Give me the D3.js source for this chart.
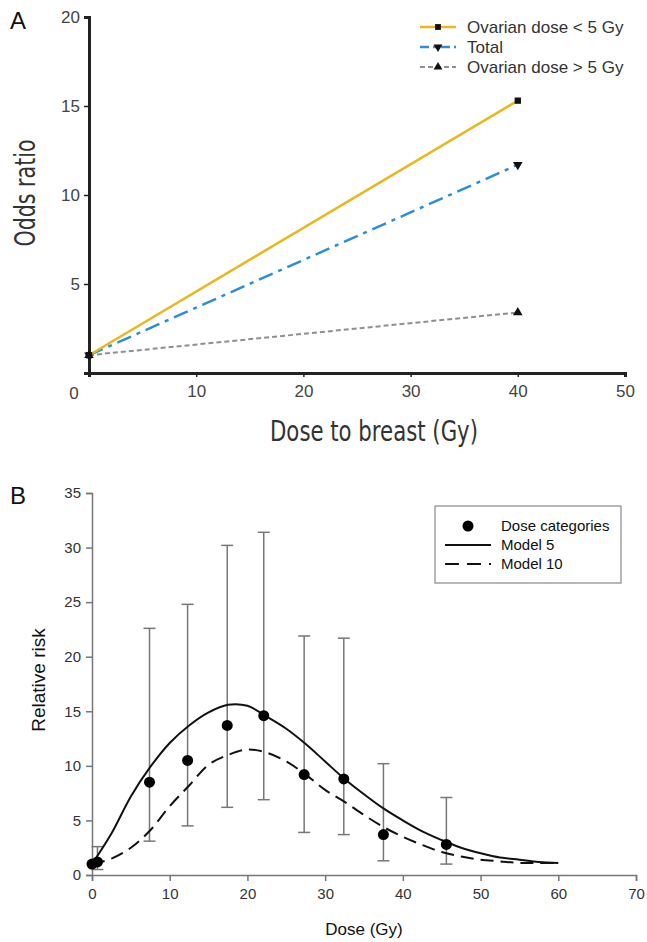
<!DOCTYPE html>
<html>
<head>
<meta charset="utf-8">
<script src="https://cdn.jsdelivr.net/npm/d3@7"></script>
<style>
  body { margin: 0; background: #fff; }
  svg { display: block; }
</style>
</head>
<body>
<script>
// ---- panel A data ----
const breastDose = [0, 40];
const orLowOvary = [1, 15.3];   // ovarian dose < 5 Gy
const orTotal = [1, 11.7];
const orHighOvary = [1, 3.4];   // ovarian dose > 5 Gy
const xTicksA = [10, 20, 30, 40, 50];
const yTicksA = [5, 10, 15, 20];

// ---- panel B data ----
const catDose = [0, 0.7, 7.4, 12.3, 17.4, 22.1, 27.3, 32.4, 37.5, 45.6];
const catRR   = [1.0, 1.2, 8.5, 10.5, 13.7, 14.6, 9.2, 8.8, 3.7, 2.8];
const catLow  = [null, 0.5, 3.1, 4.5, 6.2, 6.9, 3.9, 3.7, 1.3, 1.0];
const catHigh = [null, 2.6, 22.6, 24.8, 30.2, 31.4, 21.9, 21.7, 10.2, 7.1];

const modelDose = [0, 2.5, 5, 7.5, 10, 12.5, 15, 17.5, 20, 22.5, 25, 27.5, 30, 32.5, 35, 37.5, 40, 42.5, 45, 47.5, 50, 52.5, 55, 57.5, 60];
const model5  = [1.0, 3.8, 7.2, 9.9, 12.1, 13.7, 14.9, 15.6, 15.5, 14.5, 13.4, 12.0, 10.4, 8.8, 7.4, 6.1, 5.0, 4.0, 3.2, 2.5, 2.0, 1.6, 1.4, 1.2, 1.1];
const model10 = [1.0, 1.5, 2.5, 4.1, 6.3, 8.2, 10.1, 11.0, 11.5, 11.2, 10.4, 9.2, 7.8, 6.7, 5.5, 4.4, 3.5, 2.75, 2.1, 1.7, 1.4, 1.25, 1.1, 1.1, 1.1];
const xTicksB = [0, 10, 20, 30, 40, 50, 60, 70];
const yTicksB = [0, 5, 10, 15, 20, 25, 30, 35];

const W = 647, H = 942;
const svg = d3.select("body").append("svg")
    .attr("width", W)
    .attr("height", H);

const narrow = "'Liberation Sans Narrow', 'DejaVu Sans Condensed', sans-serif";
const arial = "'Liberation Sans', Arial, sans-serif";

// ****************** Panel A ******************
const xA = d3.scaleLinear().domain([0, 50]).range([89, 625]);
const yA = d3.scaleLinear().domain([0, 20]).range([373, 17]);

const gA = svg.append("g");

gA.append("text")
    .attr("x", 10).attr("y", 29)
    .attr("font-family", arial).attr("font-size", 24)
    .attr("fill", "#111")
    .text("A");

// axes
const axA_x = gA.append("g")
    .attr("transform", "translate(0," + yA(0) + ")")
    .call(d3.axisBottom(xA).tickValues(xTicksA).tickSize(4).tickPadding(8));
const axA_y = gA.append("g")
    .attr("transform", "translate(" + xA(0) + ",0)")
    .call(d3.axisLeft(yA).tickValues(yTicksA).tickSize(5).tickPadding(4));
[axA_x, axA_y].forEach(function(ax) {
  ax.select(".domain").attr("stroke", "#222").attr("stroke-width", 3);
  ax.selectAll(".tick line").attr("stroke", "#222").attr("stroke-width", 1.5);
  ax.selectAll(".tick text")
    .attr("font-family", arial).attr("font-size", 17).attr("fill", "#444");
});
// corner zero label
gA.append("text")
    .attr("x", xA(0) - 15).attr("y", yA(0) + 26)
    .attr("text-anchor", "middle")
    .attr("font-family", arial).attr("font-size", 17).attr("fill", "#444")
    .text("0");

// axis titles (condensed face, squeezed to the original width)
gA.append("text")
    .attr("transform", "translate(35,193) rotate(-90)")
    .attr("text-anchor", "middle")
    .attr("font-family", narrow).attr("font-size", 29).attr("fill", "#333")
    .attr("textLength", 107).attr("lengthAdjust", "spacingAndGlyphs")
    .text("Odds ratio");
gA.append("text")
    .attr("x", 374).attr("y", 441)
    .attr("text-anchor", "middle")
    .attr("font-family", narrow).attr("font-size", 28).attr("fill", "#333")
    .attr("textLength", 208).attr("lengthAdjust", "spacingAndGlyphs")
    .text("Dose to breast (Gy)");

const seriesA = [
  {name: "Ovarian dose < 5 Gy", vals: orLowOvary, color: "#E9B81F", dash: null, width: 2.5, sym: d3.symbolSquare, rot: 0},
  {name: "Total", vals: orTotal, color: "#2C8ED6", dash: "15,6,4,6", width: 2.5, sym: d3.symbolTriangle, rot: 180},
  {name: "Ovarian dose > 5 Gy", vals: orHighOvary, color: "#8F8F8F", dash: "5,3", width: 2, sym: d3.symbolTriangle, rot: 0}
];

const lineA = d3.line()
    .x(function(d) { return xA(d[0]); })
    .y(function(d) { return yA(d[1]); });

seriesA.slice().reverse().forEach(function(s) {
  const pts = breastDose.map(function(x, i) { return [x, s.vals[i]]; });
  gA.append("path")
      .attr("d", lineA(pts))
      .attr("fill", "none")
      .attr("stroke", s.color)
      .attr("stroke-width", s.width)
      .attr("stroke-dasharray", s.dash);
  gA.selectAll(null).data(pts).enter().append("path")
      .attr("d", d3.symbol().type(s.sym).size(40))
      .attr("transform", function(d) { return "translate(" + xA(d[0]) + "," + yA(d[1]) + ") rotate(" + s.rot + ")"; })
      .attr("fill", "#111");
});

// legend A
const legA = gA.append("g").attr("transform", "translate(420,27)");
seriesA.forEach(function(s, i) {
  const row = legA.append("g").attr("transform", "translate(0," + i * 20 + ")");
  row.append("line")
      .attr("x1", 0).attr("x2", 36).attr("y1", 0).attr("y2", 0)
      .attr("stroke", s.color).attr("stroke-width", s.width)
      .attr("stroke-dasharray", s.dash ? (i == 1 ? "9,4,4,4" : "5,3") : null);
  row.append("path")
      .attr("d", d3.symbol().type(s.sym).size(34))
      .attr("transform", "translate(18,0) rotate(" + s.rot + ")")
      .attr("fill", "#111");
  row.append("text")
      .attr("x", 47).attr("y", 6)
      .attr("font-family", arial).attr("font-size", 17).attr("fill", "#333")
      .text(s.name);
});

// ****************** Panel B ******************
const xB = d3.scaleLinear().domain([0, 70]).range([92, 636]);
const yB = d3.scaleLinear().domain([0, 35]).range([875, 493]);

const gB = svg.append("g");

gB.append("text")
    .attr("x", 10).attr("y", 504)
    .attr("font-family", arial).attr("font-size", 24)
    .attr("fill", "#111")
    .text("B");

const axB_x = gB.append("g")
    .attr("transform", "translate(0," + yB(0) + ")")
    .call(d3.axisBottom(xB).tickValues(xTicksB).tickSize(6).tickPadding(7));
const axB_y = gB.append("g")
    .attr("transform", "translate(" + xB(0) + ",0)")
    .call(d3.axisLeft(yB).tickValues(yTicksB).tickSize(6).tickPadding(5));
[axB_x, axB_y].forEach(function(ax) {
  ax.select(".domain").attr("stroke", "#777").attr("stroke-width", 1.5);
  ax.selectAll(".tick line").attr("stroke", "#777").attr("stroke-width", 1.5);
  ax.selectAll(".tick text")
    .attr("font-family", arial).attr("font-size", 15).attr("fill", "#333");
});

gB.append("text")
    .attr("transform", "translate(45,680) rotate(-90)")
    .attr("text-anchor", "middle")
    .attr("font-family", arial).attr("font-size", 19).attr("fill", "#111")
    .text("Relative risk");
gB.append("text")
    .attr("x", 364).attr("y", 935)
    .attr("text-anchor", "middle")
    .attr("font-family", arial).attr("font-size", 17).attr("fill", "#111")
    .text("Dose (Gy)");

// error bars
const cats = catDose.map(function(d, i) {
  return {dose: d, rr: catRR[i], lo: catLow[i], hi: catHigh[i]};
});
const bars = gB.selectAll("g.err").data(cats.filter(function(d) { return d.lo != null; }))
  .enter().append("g").attr("class", "err")
    .attr("stroke", "#777").attr("stroke-width", 1.5);
bars.append("line")
    .attr("x1", function(d) { return xB(d.dose); })
    .attr("x2", function(d) { return xB(d.dose); })
    .attr("y1", function(d) { return yB(d.lo); })
    .attr("y2", function(d) { return yB(d.hi); });
bars.selectAll("line.cap")
    .data(function(d) { return [[d.dose, d.lo], [d.dose, d.hi]]; })
  .enter().append("line").attr("class", "cap")
    .attr("x1", function(d) { return xB(d[0]) - 6; })
    .attr("x2", function(d) { return xB(d[0]) + 6; })
    .attr("y1", function(d) { return yB(d[1]); })
    .attr("y2", function(d) { return yB(d[1]); });

// model curves
const lineB = d3.line()
    .x(function(d) { return xB(d[0]); })
    .y(function(d) { return yB(d[1]); })
    .curve(d3.curveCatmullRom.alpha(0.5));
gB.append("path")
    .attr("d", lineB(modelDose.map(function(x, i) { return [x, model5[i]]; })))
    .attr("fill", "none").attr("stroke", "#111").attr("stroke-width", 2);
gB.append("path")
    .attr("d", lineB(modelDose.map(function(x, i) { return [x, model10[i]]; })))
    .attr("fill", "none").attr("stroke", "#111").attr("stroke-width", 2)
    .attr("stroke-dasharray", "13,7");

// dots
gB.selectAll("circle.cat").data(cats).enter().append("circle")
    .attr("class", "cat")
    .attr("cx", function(d) { return xB(d.dose); })
    .attr("cy", function(d) { return yB(d.rr); })
    .attr("r", 5.5)
    .attr("fill", "#000");

// legend B
const legB = gB.append("g").attr("transform", "translate(435,506)");
legB.append("rect")
    .attr("width", 186).attr("height", 77)
    .attr("fill", "#fff").attr("stroke", "#888").attr("stroke-width", 1.2);
const legItems = [
  {label: "Dose categories", type: "dot"},
  {label: "Model 5", type: "solid"},
  {label: "Model 10", type: "dash"}
];
legItems.forEach(function(it, i) {
  const y = 20 + i * 19;
  if (it.type == "dot") {
    legB.append("circle").attr("cx", 33).attr("cy", y).attr("r", 5.5).attr("fill", "#000");
  } else {
    legB.append("line")
        .attr("x1", 10).attr("x2", 56).attr("y1", y).attr("y2", y)
        .attr("stroke", "#111").attr("stroke-width", 2)
        .attr("stroke-dasharray", it.type == "dash" ? "14,8" : null);
  }
  legB.append("text")
      .attr("x", 66).attr("y", y + 5)
      .attr("font-family", arial).attr("font-size", 15).attr("fill", "#111")
      .text(it.label);
});
</script>
</body>
</html>
